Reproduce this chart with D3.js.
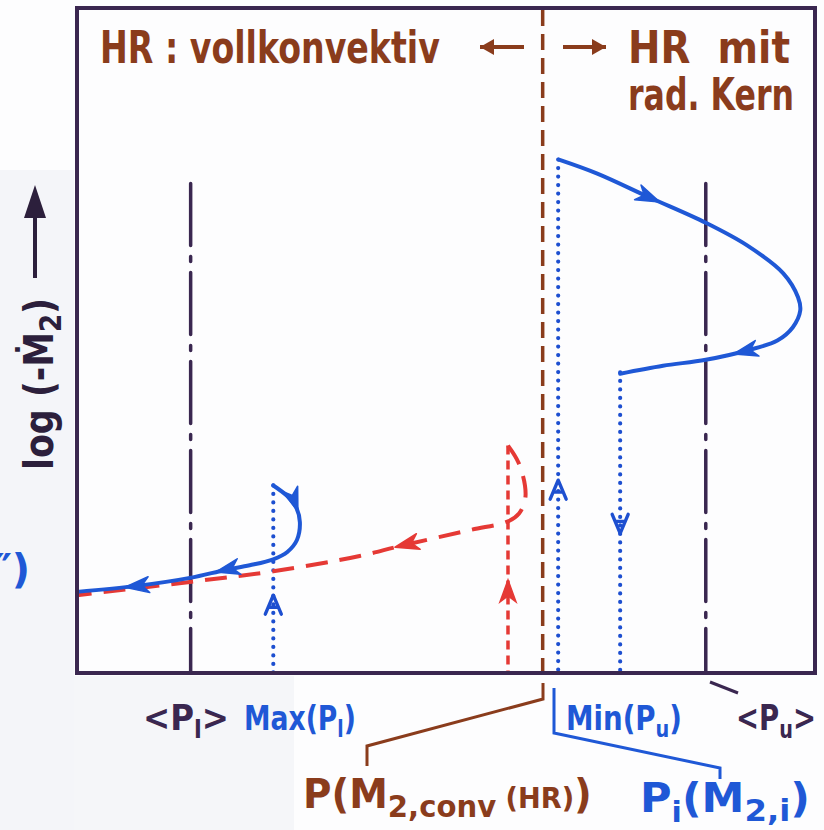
<!DOCTYPE html>
<html><head><meta charset="utf-8">
<script src="https://cdn.jsdelivr.net/npm/d3@7"></script>
<style>body{margin:0;background:#fff}svg{display:block}text{white-space:pre}</style>
</head><body><svg id="c" width="824" height="830"></svg>
<script>
// ---------- data (schematic units: x = period axis 0..100, y = log(-Ṁ2) 0..100) ----------
const boundaryX = [15.4, 85.2];          // <P_l>, <P_u>  (dash-dot lines)
const boundaryTop = 73.6;
const convX = 63.1;                       // P(M2,conv(HR)) brown dashed line
const dottedX = [26.6, 65.2, 73.6];       // Max(P_l), P_i(M2,i), Min(P_u)
const dottedTop = [28.2, 77.2, 45.2];
const redVertX = 58.4, redVertTop = 34.2;

const blueLeftX = [26.6, 28.5, 29.7, 30.2, 29.8, 28.5, 26.6, 23.4, 20.1, 15.3, 8.1, 0];
const blueLeftY = [28.2, 26.6, 24.9, 22.7, 20.0, 18.2, 17.1, 16.2, 15.5, 14.3, 13.1, 12.2];

const redX = [58.4, 59.8, 60.7, 60.7, 59.9, 58.4, 53.3, 43.8, 38.3, 26.6, 15.3, 0];
const redY = [34.2, 31.7, 28.2, 26.0, 24.0, 22.8, 21.5, 19.1, 17.6, 15.3, 13.7, 11.7];

const blueRightX = [65.3, 70.5, 77.6, 85.2, 90.8, 95.7, 97.7, 98.0, 97.0, 94.9, 90.8, 85.2, 79.4, 73.6];
const blueRightY = [77.2, 75.1, 71.5, 67.7, 64.3, 60.1, 56.5, 54.5, 52.0, 50.0, 48.5, 47.1, 46.2, 45.0];

const arrowsBlueLeft = [[29.7, 24.2], [18.7, 15.5], [6.5, 12.8]];
const arrowsRed = [[43.1, 18.9]];
const arrowsBlueRight = [[79.0, 71.0], [88.9, 48.5]];
const redVertArrow = [58.4, 14.0];
const chevronsUp = [[26.6, 11.7], [65.2, 29.0]];
const chevronsDown = [[73.6, 21.0]];

const titleLeft = "HR : vollkonvektiv";
const titleRight = ["HR  mit", "rad. Kern"];

// ---------- drawing ----------
const svg = d3.select("#c");
const x = d3.scaleLinear().domain([0, 100]).range([77, 815]);
const y = d3.scaleLinear().domain([0, 100]).range([673, 8]);
const C = {frame: "#3a2750", brown: "#8a3c1c", blue: "#1f58d6", red: "#e53935", dot: "#1d4fd0", ink: "#2c1f3c"};
const FONT = "'DejaVu Sans', sans-serif";

svg.append("rect").attr("width", 824).attr("height", 830).attr("fill", "#fdfdfe");
svg.append("rect").attr("x", 0).attr("y", 170).attr("width", 74).attr("height", 660).attr("fill", "#f4f5f9");
svg.append("rect").attr("x", 74).attr("y", 676).attr("width", 220).attr("height", 154).attr("fill", "#f5f6f9");

const line = d3.line().x(d => x(d[0])).y(d => y(d[1])).curve(d3.curveCatmullRom.alpha(0.5));
const zip = (a, b) => a.map((v, i) => [v, b[i]]);

// brown dashed conv line
svg.append("line").attr("x1", x(convX)).attr("x2", x(convX)).attr("y1", y(100) + 2).attr("y2", y(0))
  .attr("stroke", C.brown).attr("stroke-width", 3.5).attr("stroke-dasharray", "16,8");

// dash-dot boundaries
boundaryX.forEach(bx => {
  svg.append("line").attr("x1", x(bx)).attr("x2", x(bx)).attr("y1", y(boundaryTop)).attr("y2", y(0))
    .attr("stroke", C.frame).attr("stroke-width", 3.5).attr("stroke-linecap", "round")
    .attr("stroke-dasharray", "62,11,5,11");
});

// dotted blue verticals
dottedX.forEach((dx, i) => {
  svg.append("line").attr("x1", x(dx)).attr("x2", x(dx)).attr("y1", y(dottedTop[i])).attr("y2", y(0))
    .attr("stroke", C.dot).attr("stroke-width", 4.2).attr("stroke-linecap", "round")
    .attr("stroke-dasharray", "0,8.5");
});

// red dashed vertical
svg.append("line").attr("x1", x(redVertX)).attr("x2", x(redVertX)).attr("y1", y(redVertTop)).attr("y2", y(0))
  .attr("stroke", C.red).attr("stroke-width", 3.5).attr("stroke-dasharray", "9,6");

// red dashed curve
const redPath = svg.append("path").attr("d", line(zip(redX, redY))).attr("fill", "none")
  .attr("stroke", C.red).attr("stroke-width", 4).attr("stroke-dasharray", "22,12");

// blue solid curves
const blPath = svg.append("path").attr("d", line(zip(blueLeftX, blueLeftY))).attr("fill", "none")
  .attr("stroke", C.blue).attr("stroke-width", 4).attr("stroke-linecap", "round");
const brPath = svg.append("path").attr("d", line(zip(blueRightX, blueRightY))).attr("fill", "none")
  .attr("stroke", C.blue).attr("stroke-width", 4).attr("stroke-linecap", "round");

const HEAD = "M0,0 L-24,-8 L-17,0 L-24,8 Z";
function arrowOn(node, target, color) {
  const L = node.getTotalLength();
  const tx = x(target[0]), ty = y(target[1]);
  let best = 0, bd = Infinity;
  for (let l = 0; l <= L; l += 0.5) {
    const p = node.getPointAtLength(l);
    const d = (p.x - tx) ** 2 + (p.y - ty) ** 2;
    if (d < bd) { bd = d; best = l; }
  }
  const p1 = node.getPointAtLength(Math.max(0, best - 3)), p2 = node.getPointAtLength(Math.min(L, best + 3));
  const ang = Math.atan2(p2.y - p1.y, p2.x - p1.x) * 180 / Math.PI;
  const p = node.getPointAtLength(best);
  svg.append("path").attr("d", HEAD).attr("transform", `translate(${p.x},${p.y}) rotate(${ang})`)
    .attr("fill", color).attr("stroke", color).attr("stroke-width", 1.5).attr("stroke-linejoin", "round");
}
arrowsBlueLeft.forEach(a => arrowOn(blPath.node(), a, C.blue));
arrowsRed.forEach(a => arrowOn(redPath.node(), a, C.red));
arrowsBlueRight.forEach(a => arrowOn(brPath.node(), a, C.blue));
svg.append("path").attr("d", "M0,0 L-22,-8 L-16,0 L-22,8 Z")
  .attr("transform", `translate(${x(redVertArrow[0])},${y(redVertArrow[1])}) rotate(-90)`)
  .attr("fill", C.red).attr("stroke", C.red).attr("stroke-width", 1.5);

// open chevrons on dotted lines
function chevron(pt, dir) {
  svg.append("path").attr("d", "M-8,19 L0,0 L8,19 M-5,12 L5,12")
    .attr("transform", `translate(${x(pt[0])},${y(pt[1])}) scale(1,${dir})`)
    .attr("fill", "none").attr("stroke", C.dot).attr("stroke-width", 3.4).attr("stroke-linecap", "round").attr("stroke-linejoin", "round");
}
chevronsUp.forEach(p => chevron(p, 1));
chevronsDown.forEach(p => chevron(p, -1));

// frame
svg.append("rect").attr("x", x(0)).attr("y", y(100)).attr("width", x(100) - x(0)).attr("height", y(0) - y(100))
  .attr("fill", "none").attr("stroke", C.frame).attr("stroke-width", 4);

// ---------- texts (horizontally scaled to the reference widths) ----------
function txt(px, py, size, color, parts, len) {
  const g = svg.append("g");
  const t = g.append("text").attr("x", 0).attr("y", 0).attr("font-family", FONT).attr("font-weight", "bold")
    .attr("font-size", size).attr("fill", color);
  let cur = 0;
  parts.forEach(p => {
    const [s, shift, sc] = Array.isArray(p) ? p : [p, 0, 1];
    t.append("tspan").attr("dy", shift - cur).attr("font-size", size * sc).text(s);
    cur = shift;
  });
  const w = t.node().getComputedTextLength();
  const sx = len ? len / w : 1;
  g.attr("transform", `translate(${px},${py}) scale(${sx},1)`);
  return g;
}
txt(100, 63, 44, C.brown, [titleLeft], 340);
txt(628, 63, 44, C.brown, [titleRight[0]], 162);
txt(628, 110, 44, C.brown, [titleRight[1]], 166);

// small direction arrows in title
function hArrow(x1, x2, yy) {
  svg.append("line").attr("x1", x1).attr("x2", x2).attr("y1", yy).attr("y2", yy).attr("stroke", C.brown).attr("stroke-width", 4);
  const dir = x2 > x1 ? 0 : 180;
  svg.append("path").attr("d", "M0,0 L-14,-8 L-14,8 Z").attr("transform", `translate(${x2},${yy}) rotate(${dir})`).attr("fill", C.brown);
}
hArrow(524, 480, 47);
hArrow(563, 606, 47);

// y axis label + arrow
const yl = svg.append("g");
const ylt = yl.append("text").attr("text-anchor", "middle")
  .attr("font-family", FONT).attr("font-weight", "bold").attr("font-size", 40).attr("fill", C.ink);
ylt.append("tspan").text("log (-Ṁ");
ylt.append("tspan").attr("dy", 8).attr("font-size", 30).text("2");
ylt.append("tspan").attr("dy", -8).text(")");
{
  const w = ylt.node().getComputedTextLength();
  yl.attr("transform", `translate(53,384) rotate(-90) scale(${172 / w},1)`);
}
svg.append("line").attr("x1", 35).attr("x2", 35).attr("y1", 278).attr("y2", 210).attr("stroke", C.ink).attr("stroke-width", 4);
svg.append("path").attr("d", "M35,185 L24,218 L46,218 Z").attr("fill", C.ink);

// cut-off blue label at left edge
txt(-6, 583, 40, C.blue, ["″)"]);

// bottom labels
txt(143, 730, 36, C.frame, ["<P", ["l", 8, 0.7], [">", 0, 1]], 86);
txt(244, 730, 34, C.blue, ["Max(P", ["l", 7, 0.7], [")", 0, 1]], 112);
txt(566, 730, 34, C.blue, ["Min(P", ["u", 7, 0.7], [")", 0, 1]], 116);
txt(736, 730, 36, C.frame, ["<P", ["u", 8, 0.7], [">", 0, 1]], 80);
txt(303, 808, 40, C.brown, ["P(M", ["2,conv", 9, 0.75], [" (HR)", 0, 0.7], [")", 0, 1]], 289);
txt(640, 812, 40, C.blue, ["P", ["i", 10, 0.7], ["(M", 0, 1], ["2,i", 9, 0.75], [")", 0, 1]], 170);

// leader lines
svg.append("path").attr("d", "M543,683 L543,699 L367,746 L367,766").attr("fill", "none").attr("stroke", C.brown).attr("stroke-width", 3);
svg.append("path").attr("d", "M554,688 L554,733 L720,768 L720,779").attr("fill", "none").attr("stroke", C.blue).attr("stroke-width", 3);
svg.append("path").attr("d", "M710,682 L738,693").attr("fill", "none").attr("stroke", C.frame).attr("stroke-width", 3);
</script></body></html>
